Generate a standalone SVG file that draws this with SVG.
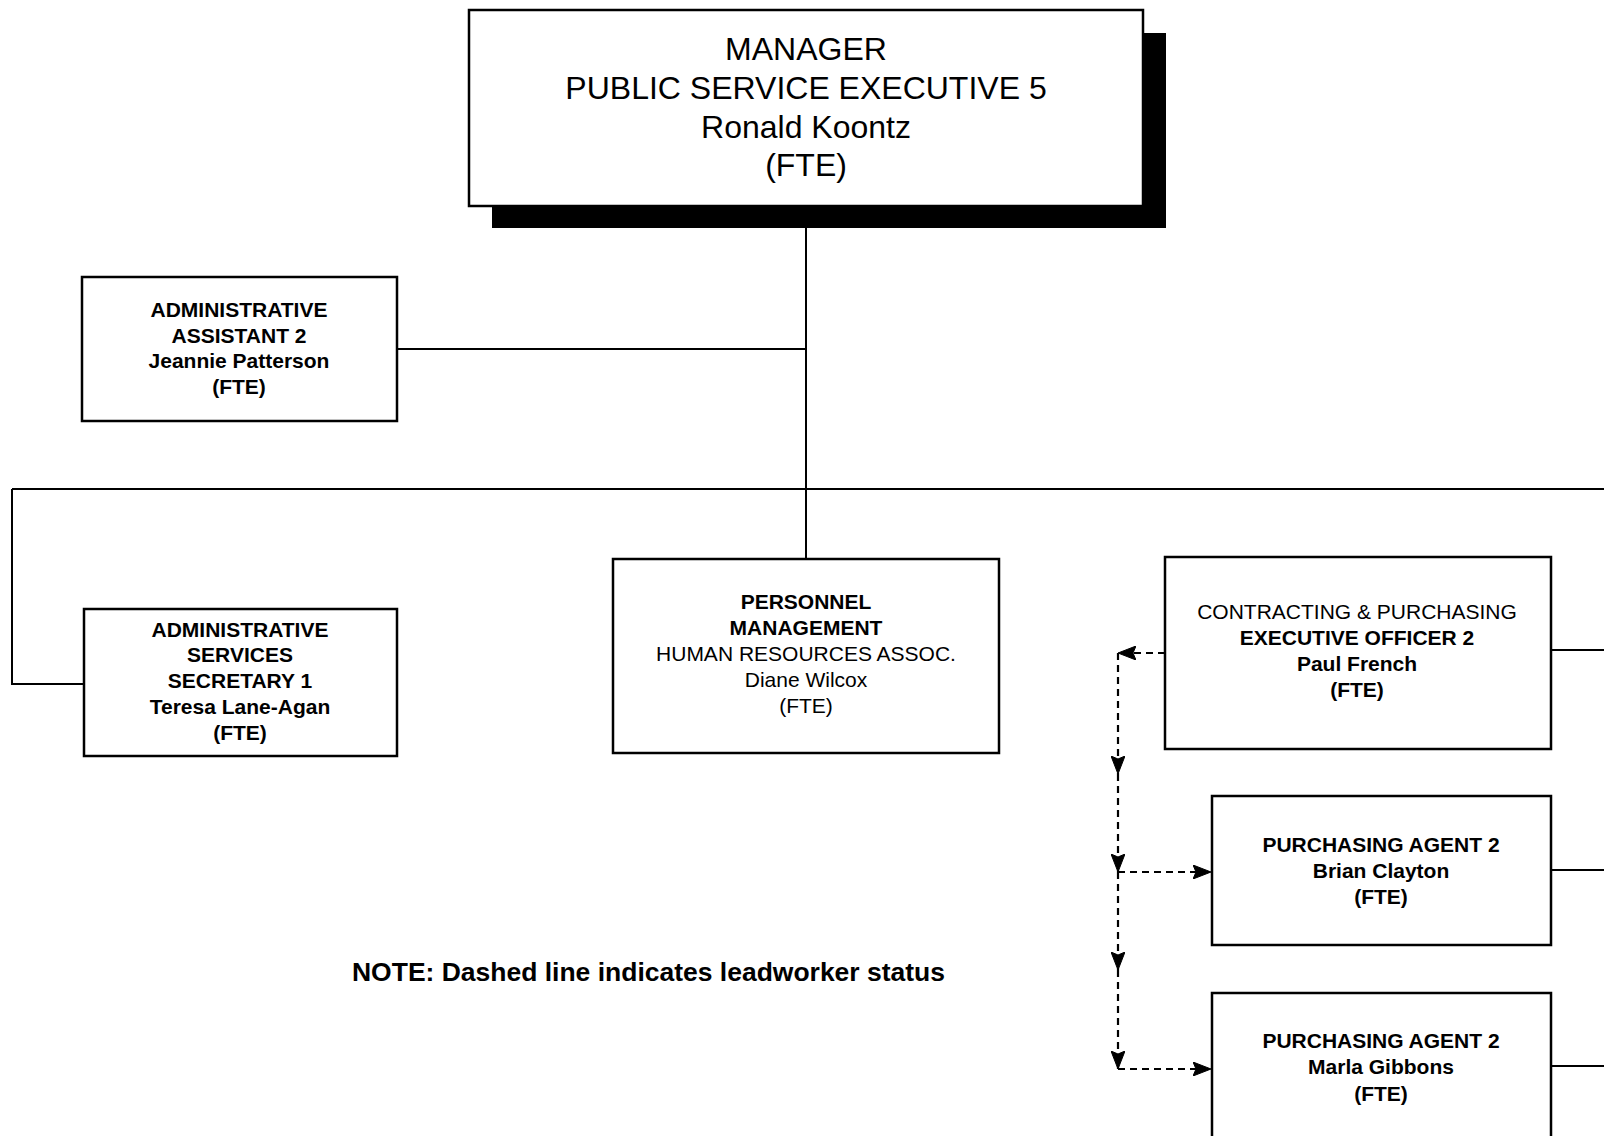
<svg xmlns="http://www.w3.org/2000/svg" width="1604" height="1136" viewBox="0 0 1604 1136">
<style>
.box{fill:#fff;stroke:#000;stroke-width:2.5}
.t{font-family:"Liberation Sans",Arial,sans-serif;font-size:21px;font-weight:bold;text-anchor:middle;fill:#000}
.r{font-weight:normal}
.big{font-family:"Liberation Sans",Arial,sans-serif;font-size:32px;text-anchor:middle;fill:#000}
.ln{fill:none;stroke:#000;stroke-width:2}
.dash{fill:none;stroke:#000;stroke-width:2.2;stroke-dasharray:7 5}
</style>
<defs>
<marker id="arr" viewBox="0 0 18 14" refX="18" refY="7" markerWidth="18" markerHeight="14" markerUnits="userSpaceOnUse" orient="auto">
<path d="M0,0 L18,7 L0,14 L3,7 Z" fill="#000" stroke="#000" stroke-width="1" stroke-dasharray="none"/>
</marker>
</defs>
<rect width="1604" height="1136" fill="#fff"/>
<g id="connectors">
<line class="ln" x1="806" y1="228" x2="806" y2="559"/>
<line class="ln" x1="397" y1="349" x2="806" y2="349"/>
<line class="ln" x1="12" y1="489" x2="1604" y2="489"/>
<polyline class="ln" points="12,489 12,684 84,684"/>
<line class="ln" x1="1551" y1="650" x2="1604" y2="650"/>
<line class="ln" x1="1551" y1="870" x2="1604" y2="870"/>
<line class="ln" x1="1551" y1="1066" x2="1604" y2="1066"/>
<line class="dash" x1="1165" y1="653" x2="1118" y2="653" marker-end="url(#arr)"/>
<line class="dash" x1="1118" y1="653" x2="1118" y2="774" marker-end="url(#arr)"/>
<line class="dash" x1="1118" y1="774" x2="1118" y2="872" marker-end="url(#arr)"/>
<line class="dash" x1="1118" y1="872" x2="1118" y2="970" marker-end="url(#arr)"/>
<line class="dash" x1="1118" y1="970" x2="1118" y2="1069" marker-end="url(#arr)"/>
<line class="dash" x1="1118" y1="872" x2="1211" y2="872" marker-end="url(#arr)"/>
<line class="dash" x1="1118" y1="1069" x2="1211" y2="1069" marker-end="url(#arr)"/>
</g>
<g id="manager">
<rect x="492" y="33" width="674" height="195" fill="#000"/>
<rect class="box" x="469" y="10" width="674" height="196"/>
<text class="big" x="806" y="60">MANAGER</text>
<text class="big" x="806" y="99">PUBLIC SERVICE EXECUTIVE 5</text>
<text class="big" x="806" y="138">Ronald Koontz</text>
<text class="big" x="806" y="176">(FTE)</text>
</g>
<g id="admin-assistant">
<rect class="box" x="82" y="277" width="315" height="144"/>
<text class="t" x="239" y="317">ADMINISTRATIVE</text>
<text class="t" x="239" y="343">ASSISTANT 2</text>
<text class="t" x="239" y="368">Jeannie Patterson</text>
<text class="t" x="239" y="394">(FTE)</text>
</g>
<g id="admin-services">
<rect class="box" x="84" y="609" width="313" height="147"/>
<text class="t" x="240" y="637">ADMINISTRATIVE</text>
<text class="t" x="240" y="662">SERVICES</text>
<text class="t" x="240" y="688">SECRETARY 1</text>
<text class="t" x="240" y="714">Teresa Lane-Agan</text>
<text class="t" x="240" y="740">(FTE)</text>
</g>
<g id="personnel">
<rect class="box" x="613" y="559" width="386" height="194"/>
<text class="t" x="806" y="609">PERSONNEL</text>
<text class="t" x="806" y="635">MANAGEMENT</text>
<text class="t r" x="806" y="661">HUMAN RESOURCES ASSOC.</text>
<text class="t r" x="806" y="687">Diane Wilcox</text>
<text class="t r" x="806" y="713">(FTE)</text>
</g>
<g id="contracting">
<rect class="box" x="1165" y="557" width="386" height="192"/>
<text class="t r" x="1357" y="619">CONTRACTING &amp; PURCHASING</text>
<text class="t" x="1357" y="645">EXECUTIVE OFFICER 2</text>
<text class="t" x="1357" y="671">Paul French</text>
<text class="t" x="1357" y="697">(FTE)</text>
</g>
<g id="purchasing-agent-clayton">
<rect class="box" x="1212" y="796" width="339" height="149"/>
<text class="t" x="1381" y="852">PURCHASING AGENT 2</text>
<text class="t" x="1381" y="878">Brian Clayton</text>
<text class="t" x="1381" y="904">(FTE)</text>
</g>
<g id="purchasing-agent-gibbons">
<rect class="box" x="1212" y="993" width="339" height="160"/>
<text class="t" x="1381" y="1048">PURCHASING AGENT 2</text>
<text class="t" x="1381" y="1074">Marla Gibbons</text>
<text class="t" x="1381" y="1101">(FTE)</text>
</g>
<text x="352" y="981" font-family="Liberation Sans, Arial, sans-serif" font-size="26" font-weight="bold" textLength="593" lengthAdjust="spacingAndGlyphs">NOTE: Dashed line indicates leadworker status</text>
</svg>
